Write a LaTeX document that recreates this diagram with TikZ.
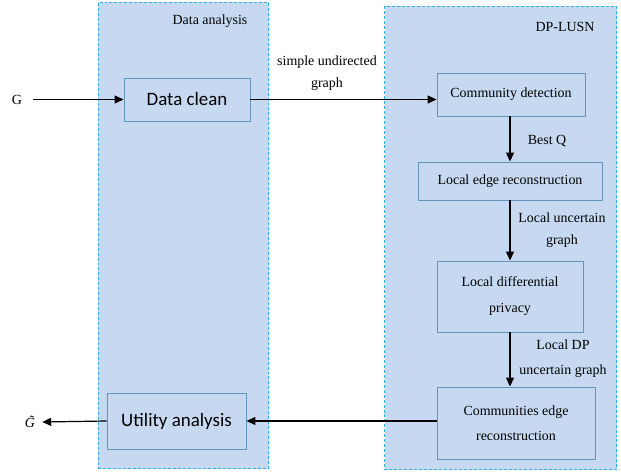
\documentclass[tikz,border=0pt]{standalone}
\usepackage{fontspec}
\setmainfont{Liberation Serif}
\newfontfamily\calib{Carlito}
\usetikzlibrary{arrows.meta}
\definecolor{panelfill}{RGB}{198,217,241}
\definecolor{paneldash}{RGB}{40,180,230}
\definecolor{boxline}{RGB}{95,150,185}
\begin{document}
\begin{tikzpicture}[x=1bp,y=-1bp,
  panel/.style={draw=paneldash,fill=panelfill,line width=1pt,dash pattern=on 3pt off 2pt},
  procbox/.style={draw=boxline,line width=0.9pt,fill=panelfill,align=center},
  serif/.style={font=\fontsize{14}{24}\selectfont},
  sansbig/.style={font=\calib\fontsize{19}{22}\selectfont},
  lbl/.style={font=\fontsize{14}{22}\selectfont,align=center},
  flow/.style={-{Triangle[length=9pt,width=8pt]},line width=1.2pt,draw=black}]
\useasboundingbox (0,0) rectangle (621,474);
\fill[white] (0,0) rectangle (621,474);
\node[panel,minimum width=170bp,minimum height=466bp,anchor=north west] (pa) at (98,2) {};
\node[panel,minimum width=232bp,minimum height=463bp,anchor=north west] (pb) at (384,6) {};
\node[lbl] (ta) at (210,21) {Data analysis};
\node[lbl] (tb) at (565,27) {DP-LUSN};
% boxes
\node[procbox,minimum width=126bp,minimum height=43bp,sansbig] (dc) at (187,99.5) {Data clean};
\node[procbox,minimum width=139bp,minimum height=56bp,sansbig] (ua) at (176.5,421) {Utility analysis};
\node[procbox,minimum width=148bp,minimum height=43bp,serif] (cd) at (511,94.5) {Community detection};
\node[procbox,minimum width=184bp,minimum height=38bp,serif] (le) at (510,181) {Local edge reconstruction};
\node[procbox,minimum width=146bp,minimum height=71bp,font=\fontsize{14}{26}\selectfont] (ld) at (510,296.5) {Local differential\\privacy};
\node[procbox,minimum width=158bp,minimum height=72bp,font=\fontsize{14}{25}\selectfont] (ce) at (516,423) {Communities edge\\reconstruction};
% inputs / outputs
\node[lbl,inner sep=1pt] (g) at (17,99.5) {G};
\node[font=\itshape\fontsize{14}{16}\selectfont,inner sep=1pt] (gt) at (30,422) {G^^^^0303};
% connectors
\coordinate (gs) at (33,99.5);
\draw[flow] (gs) -- (dc.west);
\draw[flow] (dc.east) -- (cd.west |- dc.east);
\node[lbl] (l1) at (327,73.5) {simple undirected\\graph};
\draw[flow] (cd.south -| le.north) -- (le.north);
\node[lbl] (l2) at (547,141) {Best Q};
\draw[flow] (le.south) -- (ld.north);
\node[lbl] (l3) at (562,230.5) {Local uncertain\\graph};
\draw[flow] (ld.south) -- (ld.south |- ce.north);
\node[lbl,font=\fontsize{14}{25}\selectfont] (l4) at (563,358.5) {Local DP\\uncertain graph};
\draw[flow] (ce.west |- ua.east) -- (ua.east);
\draw[flow] (ua.west) -- ([xshift=6bp]gt.east);
\end{tikzpicture}
\end{document}
